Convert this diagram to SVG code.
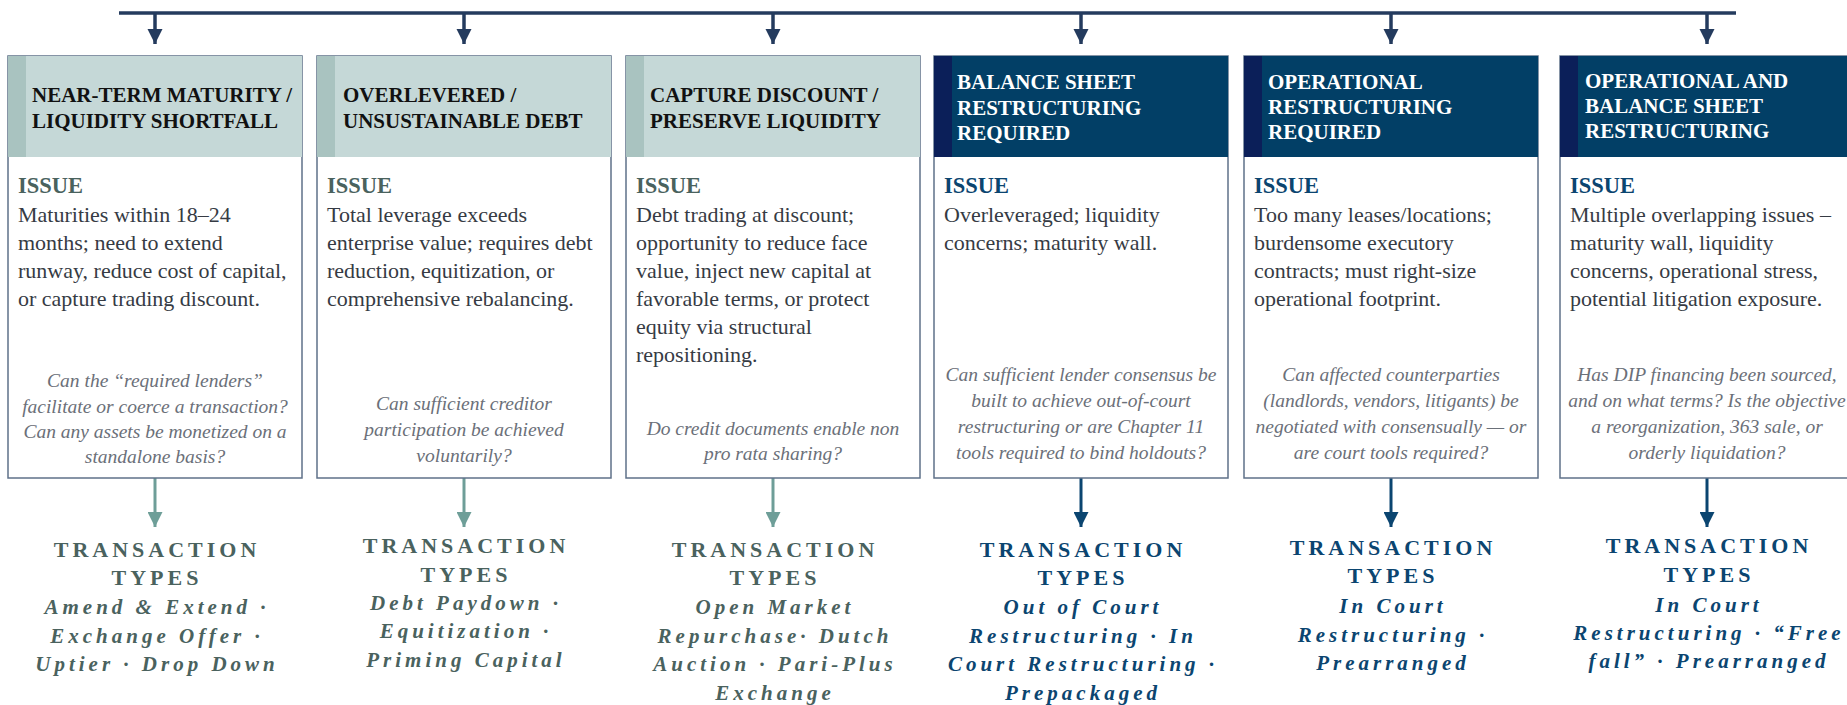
<svg xmlns="http://www.w3.org/2000/svg" width="1847" height="705" viewBox="0 0 1847 705">
<defs>
<style>
text{font-family:"Liberation Serif","Times New Roman",serif}
.box{fill:#fff;stroke:#5f7189;stroke-width:1.5}
.hl{fill:#c5d8d7}
.sl{fill:#a9c3c0}
.hd{fill:#023f66}
.sd{fill:#0b1f59}
.ht{font-size:21px;font-weight:bold;fill:#111}
.htd{font-size:21px;font-weight:bold;fill:#fff}
.iss{font-size:22.5px;font-weight:bold;fill:#4a625e}
.issd{font-size:22.5px;font-weight:bold;fill:#0b4570}
.body{font-size:22px;fill:#363b44}
.q{font-size:19.5px;font-style:italic;fill:#6b7079;text-anchor:middle}
.tt{font-size:22px;font-weight:bold;letter-spacing:4px;text-anchor:middle;fill:#4a625e}
.ti{font-size:21px;font-weight:bold;font-style:italic;letter-spacing:4px;text-anchor:middle;fill:#4a625e}
.dk .tt,.dk .ti{fill:#0b4570}
.top{stroke:#243b5e;stroke-width:3.5;fill:none}
.cl{stroke:#6e9e98;stroke-width:3;fill:none}
.cd{stroke:#0b4570;stroke-width:3;fill:none}
</style>
<marker id="aT" viewBox="0 0 10 10" refX="10" refY="5" markerWidth="4.3" markerHeight="4.3" markerUnits="strokeWidth" orient="auto"><path d="M0,0 L10,5 L0,10 z" fill="#243b5e"/></marker>
<marker id="aL" viewBox="0 0 10 10" refX="10" refY="5" markerWidth="5" markerHeight="5" markerUnits="strokeWidth" orient="auto"><path d="M0,0 L10,5 L0,10 z" fill="#6e9e98"/></marker>
<marker id="aD" viewBox="0 0 10 10" refX="10" refY="5" markerWidth="5" markerHeight="5" markerUnits="strokeWidth" orient="auto"><path d="M0,0 L10,5 L0,10 z" fill="#0b4570"/></marker>
</defs>
<rect width="1847" height="705" fill="#fff"/>

<g id="connectors">
<line class="top" x1="119" y1="13" x2="1736" y2="13"/>
<line class="top" x1="155" y1="13" x2="155" y2="44" marker-end="url(#aT)"/>
<line class="top" x1="464" y1="13" x2="464" y2="44" marker-end="url(#aT)"/>
<line class="top" x1="773" y1="13" x2="773" y2="44" marker-end="url(#aT)"/>
<line class="top" x1="1081" y1="13" x2="1081" y2="44" marker-end="url(#aT)"/>
<line class="top" x1="1391" y1="13" x2="1391" y2="44" marker-end="url(#aT)"/>
<line class="top" x1="1707" y1="13" x2="1707" y2="44" marker-end="url(#aT)"/>
<line class="cl" x1="155" y1="478" x2="155" y2="527" marker-end="url(#aL)"/>
<line class="cl" x1="464" y1="478" x2="464" y2="527" marker-end="url(#aL)"/>
<line class="cl" x1="773" y1="478" x2="773" y2="527" marker-end="url(#aL)"/>
<line class="cd" x1="1081" y1="478" x2="1081" y2="527" marker-end="url(#aD)"/>
<line class="cd" x1="1391" y1="478" x2="1391" y2="527" marker-end="url(#aD)"/>
<line class="cd" x1="1707" y1="478" x2="1707" y2="527" marker-end="url(#aD)"/>
</g>

<g id="node1">
<rect class="box" x="8" y="56" width="294" height="422"/>
<rect class="hl" x="8" y="56" width="294" height="101"/>
<rect class="sl" x="8" y="56" width="18" height="101"/>
<text class="ht" x="32" y="102">NEAR-TERM MATURITY /</text>
<text class="ht" x="32" y="128">LIQUIDITY SHORTFALL</text>
<text class="iss" x="18" y="193">ISSUE</text>
<text class="body" x="18" y="222">Maturities within 18–24</text>
<text class="body" x="18" y="250">months; need to extend</text>
<text class="body" x="18" y="278">runway, reduce cost of capital,</text>
<text class="body" x="18" y="306">or capture trading discount.</text>
<text class="q" x="155" y="387">Can the “required lenders”</text>
<text class="q" x="155" y="413">facilitate or coerce a transaction?</text>
<text class="q" x="155" y="438">Can any assets be monetized on a</text>
<text class="q" x="155" y="463">standalone basis?</text>
<text class="tt" x="157" y="557">TRANSACTION</text>
<text class="tt" x="157" y="585">TYPES</text>
<text class="ti" x="157" y="614">Amend &amp; Extend ·</text>
<text class="ti" x="157" y="643">Exchange Offer ·</text>
<text class="ti" x="157" y="671">Uptier · Drop Down</text>
</g>

<g id="node2">
<rect class="box" x="317" y="56" width="294" height="422"/>
<rect class="hl" x="317" y="56" width="294" height="101"/>
<rect class="sl" x="317" y="56" width="18" height="101"/>
<text class="ht" x="343" y="102">OVERLEVERED /</text>
<text class="ht" x="343" y="128">UNSUSTAINABLE DEBT</text>
<text class="iss" x="327" y="193">ISSUE</text>
<text class="body" x="327" y="222">Total leverage exceeds</text>
<text class="body" x="327" y="250">enterprise value; requires debt</text>
<text class="body" x="327" y="278">reduction, equitization, or</text>
<text class="body" x="327" y="306">comprehensive rebalancing.</text>
<text class="q" x="464" y="410">Can sufficient creditor</text>
<text class="q" x="464" y="436">participation be achieved</text>
<text class="q" x="464" y="462">voluntarily?</text>
<text class="tt" x="466" y="553">TRANSACTION</text>
<text class="tt" x="466" y="582">TYPES</text>
<text class="ti" x="466" y="610">Debt Paydown ·</text>
<text class="ti" x="466" y="638">Equitization ·</text>
<text class="ti" x="466" y="667">Priming Capital</text>
</g>

<g id="node3">
<rect class="box" x="626" y="56" width="294" height="422"/>
<rect class="hl" x="626" y="56" width="294" height="101"/>
<rect class="sl" x="626" y="56" width="18" height="101"/>
<text class="ht" x="650" y="102">CAPTURE DISCOUNT /</text>
<text class="ht" x="650" y="128">PRESERVE LIQUIDITY</text>
<text class="iss" x="636" y="193">ISSUE</text>
<text class="body" x="636" y="222">Debt trading at discount;</text>
<text class="body" x="636" y="250">opportunity to reduce face</text>
<text class="body" x="636" y="278">value, inject new capital at</text>
<text class="body" x="636" y="306">favorable terms, or protect</text>
<text class="body" x="636" y="334">equity via structural</text>
<text class="body" x="636" y="362">repositioning.</text>
<text class="q" x="773" y="435">Do credit documents enable non</text>
<text class="q" x="773" y="460">pro rata sharing?</text>
<text class="tt" x="775" y="557">TRANSACTION</text>
<text class="tt" x="775" y="585">TYPES</text>
<text class="ti" x="775" y="614">Open Market</text>
<text class="ti" x="775" y="643">Repurchase· Dutch</text>
<text class="ti" x="775" y="671">Auction · Pari-Plus</text>
<text class="ti" x="775" y="700">Exchange</text>
</g>

<g id="node4" class="dk">
<rect class="box" x="934" y="56" width="294" height="422"/>
<rect class="hd" x="934" y="56" width="294" height="101"/>
<rect class="sd" x="934" y="56" width="18" height="101"/>
<text class="htd" x="957" y="89">BALANCE SHEET</text>
<text class="htd" x="957" y="115">RESTRUCTURING</text>
<text class="htd" x="957" y="140">REQUIRED</text>
<text class="issd" x="944" y="193">ISSUE</text>
<text class="body" x="944" y="222">Overleveraged; liquidity</text>
<text class="body" x="944" y="250">concerns; maturity wall.</text>
<text class="q" x="1081" y="381">Can sufficient lender consensus be</text>
<text class="q" x="1081" y="407">built to achieve out-of-court</text>
<text class="q" x="1081" y="433">restructuring or are Chapter 11</text>
<text class="q" x="1081" y="459">tools required to bind holdouts?</text>
<text class="tt" x="1083" y="557">TRANSACTION</text>
<text class="tt" x="1083" y="585">TYPES</text>
<text class="ti" x="1083" y="614">Out of Court</text>
<text class="ti" x="1083" y="643">Restructuring · In</text>
<text class="ti" x="1083" y="671">Court Restructuring ·</text>
<text class="ti" x="1083" y="700">Prepackaged</text>
</g>

<g id="node5" class="dk">
<rect class="box" x="1244" y="56" width="294" height="422"/>
<rect class="hd" x="1244" y="56" width="294" height="101"/>
<rect class="sd" x="1244" y="56" width="18" height="101"/>
<text class="htd" x="1268" y="89">OPERATIONAL</text>
<text class="htd" x="1268" y="114">RESTRUCTURING</text>
<text class="htd" x="1268" y="139">REQUIRED</text>
<text class="issd" x="1254" y="193">ISSUE</text>
<text class="body" x="1254" y="222">Too many leases/locations;</text>
<text class="body" x="1254" y="250">burdensome executory</text>
<text class="body" x="1254" y="278">contracts; must right-size</text>
<text class="body" x="1254" y="306">operational footprint.</text>
<text class="q" x="1391" y="381">Can affected counterparties</text>
<text class="q" x="1391" y="407">(landlords, vendors, litigants) be</text>
<text class="q" x="1391" y="433">negotiated with consensually — or</text>
<text class="q" x="1391" y="459">are court tools required?</text>
<text class="tt" x="1393" y="555">TRANSACTION</text>
<text class="tt" x="1393" y="583">TYPES</text>
<text class="ti" x="1393" y="613">In Court</text>
<text class="ti" x="1393" y="642">Restructuring ·</text>
<text class="ti" x="1393" y="670">Prearranged</text>
</g>

<g id="node6" class="dk">
<rect class="box" x="1560" y="56" width="294" height="422"/>
<rect class="hd" x="1560" y="56" width="294" height="101"/>
<rect class="sd" x="1560" y="56" width="18" height="101"/>
<text class="htd" x="1585" y="88">OPERATIONAL AND</text>
<text class="htd" x="1585" y="113">BALANCE SHEET</text>
<text class="htd" x="1585" y="138">RESTRUCTURING</text>
<text class="issd" x="1570" y="193">ISSUE</text>
<text class="body" x="1570" y="222">Multiple overlapping issues –</text>
<text class="body" x="1570" y="250">maturity wall, liquidity</text>
<text class="body" x="1570" y="278">concerns, operational stress,</text>
<text class="body" x="1570" y="306">potential litigation exposure.</text>
<text class="q" x="1707" y="381">Has DIP financing been sourced,</text>
<text class="q" x="1707" y="407">and on what terms? Is the objective</text>
<text class="q" x="1707" y="433">a reorganization, 363 sale, or</text>
<text class="q" x="1707" y="459">orderly liquidation?</text>
<text class="tt" x="1709" y="553">TRANSACTION</text>
<text class="tt" x="1709" y="582">TYPES</text>
<text class="ti" x="1709" y="612">In Court</text>
<text class="ti" x="1709" y="640">Restructuring · “Free</text>
<text class="ti" x="1709" y="668">fall” · Prearranged</text>
</g>
</svg>
